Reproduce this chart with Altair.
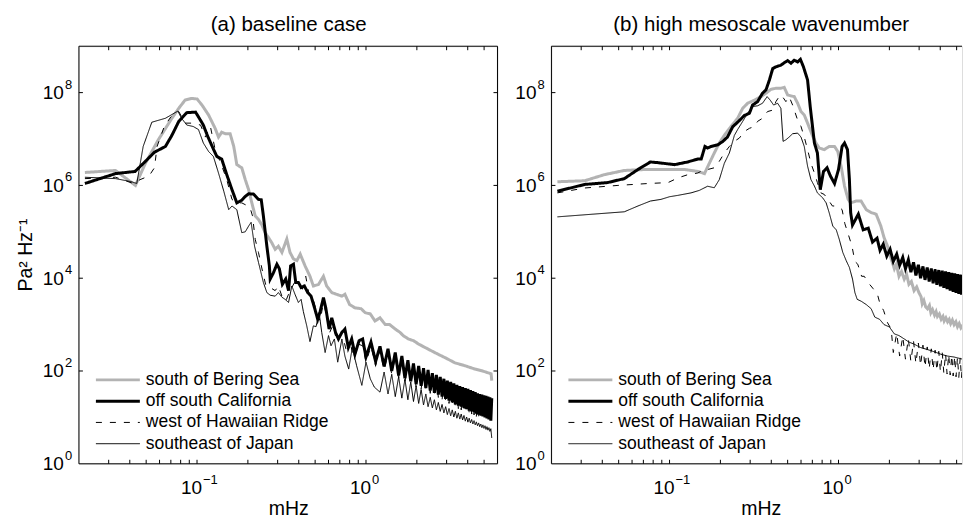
import altair as alt
import pandas as pd

FONT = "Liberation Sans"
SERIES = ["south of Bering Sea", "off south California", "west of Hawaiian Ridge", "southeast of Japan"]
COLORS = ["#b3b3b3", "#000000", "#000000", "#000000"]
WIDTHS = [3, 3, 1, 1]
DASHES = [[1, 0], [1, 0], [6, 8], [1, 0]]

# ---------------- panel (a) baseline case ----------------
A_BER_F = [0.0217, 0.0329, 0.0432, 0.0495, 0.059, 0.071, 0.078, 0.085, 0.093, 0.100, 0.107, 0.117, 0.128, 0.134,
           0.140, 0.147, 0.157, 0.165, 0.172, 0.184, 0.193, 0.202, 0.211, 0.221, 0.231, 0.242, 0.253, 0.265, 0.277,
           0.290, 0.303, 0.318, 0.340, 0.355, 0.372, 0.390, 0.408, 0.436, 0.466, 0.488, 0.523, 0.560, 0.585, 0.627,
           0.670, 0.720, 0.750, 0.800, 0.860, 0.935, 0.990, 1.06, 1.13, 1.21, 1.30, 1.38, 1.49, 1.59, 1.66, 1.78,
           1.91, 2.05, 2.24, 2.45, 2.67, 2.93, 3.36, 3.85, 4.41, 4.90, 5.50, 5.55]
A_BER_P = [1.9e6, 2.1e6, 1.0e6, 3.0e6, 9.6e6, 2.8e7, 4.6e7, 6.9e7, 7.5e7, 7.3e7, 5.4e7, 3.3e7, 1.7e7, 1.1e7,
           1.4e7, 1.3e7, 1.3e7, 6.9e6, 2.8e6, 2.4e6, 1.33e6, 8.1e5, 4.2e5, 2.2e5, 1.85e5, 1.4e5, 9.6e4, 7.5e4, 5.8e4,
           4.2e4, 4.9e4, 3.6e4, 7.0e4, 3.6e4, 2.6e4, 2.4e4, 3.3e4, 1.84e4, 1.1e4, 6.8e3, 7.3e3, 1.1e4, 6.8e3, 4.9e3,
           4.5e3, 4.1e3, 4.5e3, 2.7e3, 2.3e3, 2.2e3, 1.8e3, 1.7e3, 1.2e3, 1.4e3, 1.0e3, 1.0e3, 8.0e2, 6.8e2, 5.8e2, 4.9e2,
           4.5e2, 3.8e2, 3.2e2, 2.7e2, 2.3e2, 1.95e2, 1.5e2, 1.3e2, 1.1e2, 1.0e2, 87, 62]

A_CAL_F = [0.0217, 0.033, 0.043, 0.0495, 0.056, 0.065, 0.071, 0.078, 0.087, 0.098, 0.102, 0.109, 0.115, 0.123,
           0.131, 0.140, 0.150, 0.161, 0.172, 0.184, 0.193, 0.202, 0.216, 0.231, 0.240, 0.247, 0.259, 0.268, 0.271,
           0.283, 0.297, 0.307, 0.320, 0.335, 0.348, 0.358, 0.372, 0.384, 0.398, 0.413, 0.432, 0.452, 0.473, 0.496,
           0.518, 0.535, 0.560, 0.578, 0.605, 0.627, 0.660, 0.687, 0.720, 0.750, 0.786, 0.823, 0.860, 0.910, 0.955]
A_CAL_P = [1.1e6, 1.8e6, 2.0e6, 3.3e6, 5.2e6, 6.9e6, 1.2e7, 2.4e7, 3.7e7, 3.8e7, 3.0e7, 2.0e7, 1.2e7, 6.9e6,
           4.2e6, 3.7e6, 1.7e6, 8.1e5, 4.2e5, 4.8e5, 5.8e5, 6.6e5, 6.5e5, 5.0e5, 4.9e5, 2.2e5, 4.9e4, 1.84e4, 9.6e3,
           1.3e4, 2.0e4, 1.6e4, 7.4e3, 9.6e3, 5.4e3, 1.84e4, 2.0e4, 8.1e3, 8.1e3, 6.3e3, 6.8e3, 4.9e3, 4.1e3, 2.3e3,
           1.3e3, 1.9e3, 3.8e3, 2.3e3, 8.0e2, 1.4e3, 6.8e2, 4.9e2, 6.8e2, 8.0e2, 3.2e2, 4.9e2, 2.3e2, 4.5e2, 4.9e2]

# high-frequency part of panel (a), where the spectra ripple
A_OSC_F = [1.00, 1.07, 1.14, 1.21, 1.28, 1.35, 1.42, 1.49, 1.56, 1.63, 1.70, 1.77, 1.84, 1.91, 1.98, 2.05, 2.12,
           2.19, 2.26, 2.33, 2.40, 2.47, 2.54, 2.61, 2.68, 2.75, 2.82, 2.89, 2.96, 3.03, 3.10, 3.17, 3.24, 3.31,
           3.38, 3.45, 3.52, 3.59, 3.66, 3.73, 3.80, 3.87, 3.94, 4.01, 4.08, 4.15, 4.22, 4.29, 4.36, 4.43, 4.50,
           4.57, 4.64, 4.71, 4.78, 4.85, 4.92, 4.99, 5.06, 5.13, 5.20, 5.27, 5.34, 5.41, 5.48, 5.55]
A_CAL_OSC = [200, 420, 160, 340, 125, 300, 100, 250, 80, 210, 70, 170, 60, 145, 52, 128, 48, 115, 43, 105, 38, 90,
             34, 82, 31, 75, 28, 68, 25, 62, 23, 58, 21, 54, 19, 50, 18, 47, 17, 45, 16, 43, 15, 41, 14, 39, 13.5,
             37, 13, 35, 12, 33, 11.5, 32, 11, 31, 10.5, 30, 10, 29, 9.5, 28, 9, 27, 8.5, 26]

A_HAW_F = [0.0217, 0.033, 0.042, 0.046, 0.052, 0.056, 0.058, 0.064, 0.070, 0.078, 0.085, 0.093, 0.105, 0.112,
           0.120, 0.128, 0.137, 0.150, 0.161, 0.172, 0.184, 0.197, 0.206, 0.213, 0.221, 0.231, 0.245, 0.256, 0.271,
           0.290, 0.303, 0.318, 0.335, 0.355, 0.378, 0.398, 0.420, 0.440, 0.460, 0.488, 0.510, 0.535, 0.560, 0.585,
           0.610, 0.640, 0.670, 0.700, 0.735, 0.770, 0.800, 0.850, 0.900, 0.955]
A_HAW_P = [1.4e6, 1.5e6, 1.1e6, 1.33e6, 1.6e6, 2.4e6, 6.9e6, 1.86e7, 3.0e7, 3.9e7, 2.2e7, 2.2e7, 2.0e7, 1.1e7,
           1.86e7, 5.9e6, 3.3e6, 1.33e6, 5.0e5, 4.2e5, 4.2e5, 3.7e5, 3.3e5, 2.2e5, 6.9e4, 3.6e4, 1.32e4, 6.8e3, 6.3e3,
           5.4e3, 6.8e3, 4.1e3, 3.2e3, 5.4e3, 8.1e3, 6.8e3, 5.8e3, 1.1e4, 4.5e3, 3.5e3, 1.8e3, 1.2e3, 3.0e3, 1.5e3,
           6.8e2, 1.0e3, 4.3e2, 5.8e2, 4.9e2, 2.5e2, 4.5e2, 1.8e2, 3.8e2, 3.5e2]
A_HAW_OSC = [155, 340, 130, 280, 105, 240, 85, 200, 70, 170, 60, 140, 52, 120, 45, 105, 41, 95, 37, 86, 33, 75,
             29, 68, 27, 62, 24, 56, 22, 51, 20, 48, 18, 45, 16.5, 42, 15.5, 39, 14.5, 37, 14, 35, 13, 34, 12.2, 32,
             11.8, 31, 11.3, 29, 10.5, 28, 10, 27, 9.6, 26, 9.2, 25, 8.8, 24, 8.3, 23, 7.9, 22, 7.5, 21]

A_JAP_F = [0.0217, 0.033, 0.041, 0.044, 0.048, 0.054, 0.065, 0.077, 0.081, 0.087, 0.095, 0.102, 0.109, 0.117,
           0.125, 0.134, 0.144, 0.154, 0.161, 0.172, 0.184, 0.193, 0.202, 0.209, 0.219, 0.231, 0.247, 0.259, 0.271,
           0.290, 0.303, 0.318, 0.332, 0.348, 0.364, 0.380, 0.398, 0.413, 0.426, 0.446, 0.466, 0.488, 0.506, 0.528,
           0.547, 0.573, 0.600, 0.621, 0.650, 0.680, 0.720, 0.750, 0.790, 0.830, 0.880, 0.945, 1.00, 1.06, 1.12]
A_JAP_P = [1.5e6, 1.4e6, 1.2e6, 1.1e6, 6.9e6, 2.3e7, 2.8e7, 4.0e7, 2.8e7, 2.0e7, 1.86e7, 1.6e7, 8.2e6, 5.4e6,
           4.2e6, 1.85e6, 7.5e5, 3.0e5, 3.6e5, 3.0e5, 9.6e4, 1.0e5, 1.33e5, 1.6e5, 4.9e4, 2.2e4, 8.1e3, 4.9e3, 4.3e3,
           4.1e3, 4.9e3, 3.9e3, 3.5e3, 3.0e3, 6.8e3, 4.5e3, 3.0e3, 3.5e3, 1.9e3, 9.4e2, 4.3e2, 9.4e2, 9.0e2, 1.8e3,
           6.8e2, 2.5e2, 5.8e2, 3.5e2, 4.9e2, 1.55e2, 4.9e2, 2.1e2, 1.1e2, 3.2e2, 1.3e2, 49, 1.55e2, 68, 45]
A_JAP_OSC = [35, 95, 32, 85, 28, 75, 26, 66, 24, 58, 22, 48, 20, 40, 18.5, 32, 17, 27, 16, 24, 14.5, 21, 13.5, 19,
             12.5, 17, 11.5, 15.5, 10.8, 14.5, 10.2, 13.5, 9.6, 12.5, 9.2, 11.8, 8.8, 11, 8.3, 10.2, 7.9, 9.6, 7.6,
             9.0, 7.2, 8.5, 6.9, 8.0, 6.6, 7.6, 6.3, 7.2, 6.0, 6.9, 5.8, 6.6, 5.5, 6.3, 5.3, 6.0, 5.0, 5.7, 3.6]

# ---------------- panel (b) high mesoscale wavenumber ----------------
B_BER_F = [0.0217, 0.0315, 0.041, 0.054, 0.071, 0.093, 0.123, 0.147, 0.161, 0.172, 0.184, 0.197, 0.211, 0.231,
           0.253, 0.271, 0.290, 0.318, 0.348, 0.372, 0.398, 0.426, 0.456, 0.477, 0.500, 0.523, 0.547, 0.573, 0.600,
           0.627, 0.656, 0.700, 0.735, 0.770, 0.823, 0.880, 0.947, 0.990, 1.04, 1.085, 1.14, 1.18, 1.27, 1.36, 1.46,
           1.56, 1.67, 1.78, 1.86, 1.95, 2.05, 2.14, 2.20, 2.28, 2.36, 2.45, 2.53, 2.61, 2.70, 2.80, 2.90, 2.99,
           3.08, 3.13, 3.20, 3.28, 3.36, 3.45, 3.52, 3.60, 3.70, 3.78, 3.85, 3.95, 4.05, 4.15, 4.22, 4.32, 4.42,
           4.52, 4.61, 4.72, 4.83, 4.95, 5.06, 5.18, 5.30, 5.42, 5.53]
B_BER_P = [1.2e6, 1.26e6, 1.7e6, 2.1e6, 2.2e6, 2.2e6, 2.2e6, 2.0e6, 1.8e6, 3.0e6, 5.0e6, 8.2e6, 1.2e7, 1.86e7,
           2.8e7, 4.6e7, 5.9e7, 6.9e7, 8.2e7, 9.7e7, 1.18e8, 1.24e8, 1.24e8, 1.3e8, 8.9e7, 8.5e7, 8.2e7, 5.9e7, 3.9e7,
           3.3e7, 2.2e7, 1.2e7, 8.2e6, 6.4e6, 5.9e6, 6.9e6, 6.9e6, 5.4e6, 2.4e6, 9.7e5, 5.0e5, 4.2e5, 4.6e5, 4.6e5,
           3.0e5, 2.6e5, 2.4e5, 1.33e5, 7.5e4, 4.9e4, 2.6e4, 1.6e4, 2.0e4, 1.1e4, 1.4e4, 9.5e3, 1.2e4, 7.4e3, 8.5e3,
           5.4e3, 6.5e3, 4.9e3, 4.0e3, 2.8e3, 3.3e3, 2.4e3, 2.2e3, 2.6e3, 1.8e3, 2.1e3, 1.6e3, 1.9e3, 1.5e3, 1.7e3,
           1.3e3, 1.5e3, 1.2e3, 1.4e3, 1.15e3, 1.3e3, 1.05e3, 1.25e3, 1.0e3, 1.15e3, 9.0e2, 1.05e3, 8.5e2, 9.5e2, 8.0e2]

B_CAL_F = [0.0217, 0.0315, 0.043, 0.054, 0.065, 0.077, 0.085, 0.107, 0.128, 0.147, 0.154, 0.162, 0.168, 0.176,
           0.193, 0.207, 0.220, 0.237, 0.253, 0.277, 0.297, 0.310, 0.332, 0.355, 0.372, 0.390, 0.408, 0.426, 0.456,
           0.477, 0.500, 0.523, 0.547, 0.573, 0.595, 0.620, 0.656, 0.680, 0.720, 0.750, 0.780, 0.815, 0.855, 0.895,
           0.947, 1.00, 1.05, 1.085, 1.13, 1.16, 1.18, 1.21, 1.31, 1.40, 1.50, 1.59, 1.69, 1.76, 1.84, 1.93, 2.02,
           2.11, 2.21, 2.30, 2.40, 2.49, 2.59, 2.68, 2.78, 2.87, 2.97, 3.06, 3.16, 3.25, 3.35, 3.44, 3.54, 3.63,
           3.73, 3.82, 3.92, 4.01, 4.11, 4.20, 4.30, 4.39, 4.49, 4.58, 4.68, 4.77, 4.87, 4.96, 5.06, 5.15, 5.25,
           5.34, 5.44, 5.53]
B_CAL_P = [7.5e5, 1.05e6, 1.15e6, 1.4e6, 2.2e6, 3.2e6, 3.1e6, 2.8e6, 3.2e6, 3.7e6, 3.7e6, 6.9e6, 6.4e6, 6.9e6,
           7.5e6, 8.9e6, 1.1e7, 1.86e7, 2.3e7, 3.2e7, 3.6e7, 5.4e7, 6.4e7, 9.7e7, 1.14e8, 1.87e8, 3.3e8, 3.6e8, 3.9e8,
           4.4e8, 4.9e8, 4.3e8, 5.0e8, 4.6e8, 5.2e8, 3.6e8, 1.87e8, 5.0e7, 8.2e6, 5.0e6, 8.1e5, 2.0e6, 2.4e6, 1.6e6,
           1.1e6, 2.2e6, 6.9e6, 8.2e6, 5.9e6, 1.33e6, 2.6e5, 1.4e5, 2.4e5, 1.1e5, 1.2e5, 6.0e4, 7.3e4, 4.0e4, 5.4e4,
           3.0e4, 4.2e4, 2.3e4, 3.3e4, 1.9e4, 2.8e4, 1.6e4, 2.5e4, 1.35e4, 2.2e4, 1.15e4, 1.95e4, 1.0e4, 1.8e4,
           9.2e3, 1.7e4, 8.5e3, 1.62e4, 7.8e3, 1.55e4, 7.2e3, 1.5e4, 6.7e3, 1.45e4, 6.2e3, 1.4e4, 5.8e3, 1.35e4,
           5.4e3, 1.3e4, 5.1e3, 1.27e4, 4.8e3, 1.23e4, 4.6e3, 1.2e4, 4.4e3, 1.17e4, 4.1e3]

B_HAW_F = [0.0217, 0.0315, 0.0495, 0.075, 0.098, 0.112, 0.128, 0.147, 0.157, 0.168, 0.184, 0.197, 0.211, 0.226,
           0.242, 0.259, 0.277, 0.297, 0.318, 0.332, 0.355, 0.380, 0.408, 0.426, 0.452, 0.466, 0.488, 0.510, 0.535,
           0.568, 0.600, 0.627, 0.656, 0.687, 0.720, 0.750, 0.786, 0.823, 0.880, 0.920, 0.990, 1.05, 1.09, 1.14,
           1.20, 1.25, 1.30, 1.37, 1.42, 1.50, 1.60, 1.70, 1.76, 1.85, 1.95, 2.05]
B_HAW_P = [6.9e5, 8.8e5, 1.0e6, 1.1e6, 1.15e6, 1.45e6, 1.7e6, 1.85e6, 2.1e6, 2.2e6, 2.4e6, 3.3e6, 5.0e6, 6.9e6,
           8.9e6, 1.05e7, 1.45e7, 1.7e7, 1.86e7, 2.4e7, 2.8e7, 3.9e7, 4.2e7, 6.4e7, 8.9e7, 8.2e7, 6.4e7, 8.2e7, 5.4e7,
           2.8e7, 1.86e7, 1.1e7, 5.9e6, 3.0e6, 1.85e6, 1.15e6, 6.9e5, 6.4e5, 4.6e5, 3.6e5, 3.6e5, 3.0e5, 1.5e5, 9e4,
           5e4, 2.3e4, 2.0e4, 1.1e4, 1.1e4, 8e3, 6e3, 4.5e3, 2.8e3, 2.0e3, 1.1e3, 8e2]
B_OSC_F = [2.11, 2.21, 2.30, 2.40, 2.49, 2.59, 2.68, 2.78, 2.87, 2.97, 3.06, 3.16, 3.25, 3.35, 3.44, 3.54, 3.63,
           3.73, 3.82, 3.92, 4.01, 4.11, 4.20, 4.30, 4.39, 4.49, 4.58, 4.68, 4.77, 4.87, 4.96, 5.06, 5.15, 5.25,
           5.34, 5.44, 5.53]
B_HAW_OSC = [2.5e2, 6.5e2, 2.1e2, 5.6e2, 1.8e2, 5.0e2, 1.6e2, 4.4e2, 1.45e2, 4.0e2, 1.3e2, 3.6e2, 1.2e2, 3.3e2,
             1.1e2, 3.0e2, 1.05e2, 2.8e2, 1.0e2, 2.65e2, 95, 2.5e2, 90, 2.4e2, 86, 2.3e2, 82, 2.2e2, 78, 2.1e2, 75,
             2.0e2, 72, 1.95e2, 69, 1.9e2, 66]

B_JAP_F = [0.0217, 0.054, 0.065, 0.077, 0.089, 0.100, 0.112, 0.134, 0.150, 0.168, 0.184, 0.197, 0.211, 0.226,
           0.242, 0.253, 0.271, 0.290, 0.310, 0.332, 0.355, 0.378, 0.394, 0.413, 0.436, 0.456, 0.470, 0.488, 0.510,
           0.535, 0.573, 0.600, 0.627, 0.656, 0.687, 0.720, 0.750, 0.806, 0.845, 0.880, 0.925, 0.970, 1.01, 1.06,
           1.11, 1.16, 1.21, 1.25, 1.29, 1.36, 1.46, 1.56, 1.64, 1.75, 1.86, 2.00, 2.14, 2.28, 2.45, 2.61, 2.80,
           3.06, 3.36, 3.68, 4.03, 4.41, 4.83, 5.42, 5.53]
B_JAP_P = [2.1e5, 2.7e5, 3.6e5, 4.6e5, 5.0e5, 5.7e5, 6.1e5, 6.9e5, 7.8e5, 9.6e5, 8.9e5, 1.33e6, 3.0e6, 5.0e6,
           1.2e7, 1.6e7, 2.4e7, 3.6e7, 5.0e7, 5.2e7, 5.9e7, 8.2e7, 6.9e7, 5.4e7, 5.9e7, 4.6e7, 8.9e6, 9.6e6, 1.1e7,
           1.3e7, 1.34e7, 1.1e7, 6.9e6, 2.6e6, 1.33e6, 9.7e5, 6.9e5, 5.4e5, 4.2e5, 2.6e5, 1.33e5, 1.1e5, 6.9e4,
           3.6e4, 2.4e4, 1.7e4, 9.6e3, 4.9e3, 3.5e3, 3.2e3, 2.7e3, 2.2e3, 1.45e3, 1.3e3, 1.0e3, 8.9e2, 6.3e2, 5.8e2,
           4.9e2, 4.2e2, 3.8e2, 3.2e2, 2.9e2, 2.6e2, 2.3e2, 2.1e2, 2.0e2, 1.8e2, 1.75e2]

# ---------------- axes ----------------
X_TICKS = [0.03, 0.04, 0.05, 0.06, 0.07, 0.08, 0.09, 0.1, 0.2, 0.3, 0.4, 0.5, 0.6, 0.7, 0.8, 0.9, 1, 2, 3, 4, 5]
Y_TICKS = [1e2, 1e4, 1e6, 1e8]
X_LAB = [0.1, 1]
X_EXP = ["\u22121", "0"]
Y_LAB = [1, 1e2, 1e4, 1e6, 1e8]
Y_EXP = ["0", "2", "4", "6", "8"]
TITLES = ["(a) baseline case", "(b) high mesoscale wavenumber"]
X_TITLE = "mHz"
Y_TITLE = "Pa\u00b2 Hz\u207b\u00b9"

H = 418
W_A, W_B = 419, 411
X_DOM_A = [0.02, 6.0]
X_DOM_B = [0.02, 5.38]
Y_DOM = [1, 1e9]
LEG_Y0, LEG_DY = 334, 21.3


def panel(parts, width, xdom, title, first):
    xs = alt.Scale(type="log", domain=xdom, nice=False)
    ys = alt.Scale(type="log", domain=Y_DOM, nice=False)
    one = pd.DataFrame({"k": [0]})
    layers = []
    for k, (fs, ps) in enumerate(parts):
        df = pd.DataFrame({"f": fs[:len(ps)], "p": ps[:len(fs)]})
        df["i"] = range(len(df))
        style = dict(color=COLORS[k], strokeWidth=WIDTHS[k], strokeDash=DASHES[k])
        layers.append(alt.Chart(df).mark_line(clip=True, **style).encode(
            x=alt.X("f:Q", scale=xs, axis=None),
            y=alt.Y("p:Q", scale=ys, axis=None),
            order=alt.Order("i:Q"),
        ))
    # legend (inside, lower left)
    for k in range(4):
        style = dict(color=COLORS[k], strokeWidth=WIDTHS[k], strokeDash=DASHES[k])
        yk = LEG_Y0 + LEG_DY * k
        layers.append(alt.Chart(one).mark_rule(**style).encode(
            x=alt.value(17), x2=alt.value(61), y=alt.value(yk)))
        layers.append(alt.Chart(one).mark_text(align="left", baseline="middle", fontSize=17.5, font=FONT,
                                               color="black").encode(
            x=alt.value(67), y=alt.value(yk), text=alt.value(SERIES[k])))
    rule = dict(color="black", strokeWidth=1)
    layers.append(alt.Chart(one).mark_rule(**rule).encode(x=alt.value(0), y=alt.value(0), y2=alt.value(H)))
    layers.append(alt.Chart(one).mark_rule(**rule).encode(x=alt.value(0), x2=alt.value(width), y=alt.value(0)))
    layers.append(alt.Chart(one).mark_rule(**rule).encode(x=alt.value(0), x2=alt.value(width), y=alt.value(H)))
    xt = pd.DataFrame({"t": X_TICKS})
    yt = pd.DataFrame({"t": Y_TICKS})
    tx = alt.X("t:Q", scale=xs, axis=None)
    ty = alt.Y("t:Q", scale=ys, axis=None)
    layers.append(alt.Chart(xt).mark_rule(**rule).encode(x=tx, y=alt.value(H), y2=alt.value(H - 4)))
    layers.append(alt.Chart(xt).mark_rule(**rule).encode(x=tx, y=alt.value(0), y2=alt.value(4)))
    layers.append(alt.Chart(yt).mark_rule(**rule).encode(y=ty, x=alt.value(0), x2=alt.value(4)))
    if first:
        layers.append(alt.Chart(one).mark_rule(**rule).encode(x=alt.value(width), y=alt.value(0), y2=alt.value(H)))
        layers.append(alt.Chart(yt).mark_rule(**rule).encode(y=ty, x=alt.value(width), x2=alt.value(width - 4)))
    # tick labels
    xl = pd.DataFrame({"t": X_LAB, "e": X_EXP})
    yl = pd.DataFrame({"t": Y_LAB, "e": Y_EXP})
    layers.append(alt.Chart(xl).mark_text(align="right", baseline="alphabetic", dx=5, fontSize=19, font=FONT,
                                          color="black").encode(x=tx, y=alt.value(H + 30), text=alt.value("10")))
    layers.append(alt.Chart(xl).mark_text(align="left", baseline="alphabetic", dx=6, fontSize=13, font=FONT,
                                          color="black").encode(x=tx, y=alt.value(H + 20), text="e:N"))
    layers.append(alt.Chart(yl).mark_text(align="right", baseline="alphabetic", dy=6.5, fontSize=19, font=FONT,
                                          color="black").encode(y=ty, x=alt.value(-15), text=alt.value("10")))
    layers.append(alt.Chart(yl).mark_text(align="left", baseline="alphabetic", dy=-4, fontSize=13, font=FONT,
                                          color="black").encode(y=ty, x=alt.value(-14), text="e:N"))
    # titles
    layers.append(alt.Chart(one).mark_text(align="center", baseline="alphabetic", fontSize=20.5, font=FONT,
                                           color="black").encode(x=alt.value(210), y=alt.value(-15),
                                                                 text=alt.value(title)))
    layers.append(alt.Chart(one).mark_text(align="center", baseline="alphabetic", fontSize=19.5, font=FONT,
                                           color="black").encode(x=alt.value(210), y=alt.value(H + 51),
                                                                 text=alt.value(X_TITLE)))
    if first:
        layers.append(alt.Chart(one).mark_text(align="center", baseline="middle", fontSize=19.5, font=FONT,
                                               angle=270, color="black").encode(
            x=alt.value(-53), y=alt.value(H / 2), text=alt.value(Y_TITLE)))
        layers.append(alt.Chart(one).mark_rect(opacity=0).encode(
            x=alt.value(-78), x2=alt.value(-77), y=alt.value(-45), y2=alt.value(H + 55)))
    return alt.layer(*layers).properties(width=width, height=H)


parts_a = [
    (A_BER_F, A_BER_P),
    (A_CAL_F + A_OSC_F, A_CAL_P + A_CAL_OSC),
    (A_HAW_F + A_OSC_F, A_HAW_P + A_HAW_OSC),
    (A_JAP_F + A_OSC_F[3:], A_JAP_P + A_JAP_OSC),
]
parts_b = [
    (B_BER_F, B_BER_P),
    (B_CAL_F, B_CAL_P),
    (B_HAW_F + B_OSC_F, B_HAW_P + B_HAW_OSC),
    (B_JAP_F, B_JAP_P),
]

pa = panel(parts_a, W_A, X_DOM_A, TITLES[0], True)
pb = panel(parts_b, W_B, X_DOM_B, TITLES[1], False)

chart = alt.hconcat(pa, pb, spacing=54, bounds="flush").properties(
    padding=0, background="white").configure_view(strokeWidth=0).configure(font=FONT)

chart.save("out.html", embed_options={"renderer": "svg", "actions": False})
